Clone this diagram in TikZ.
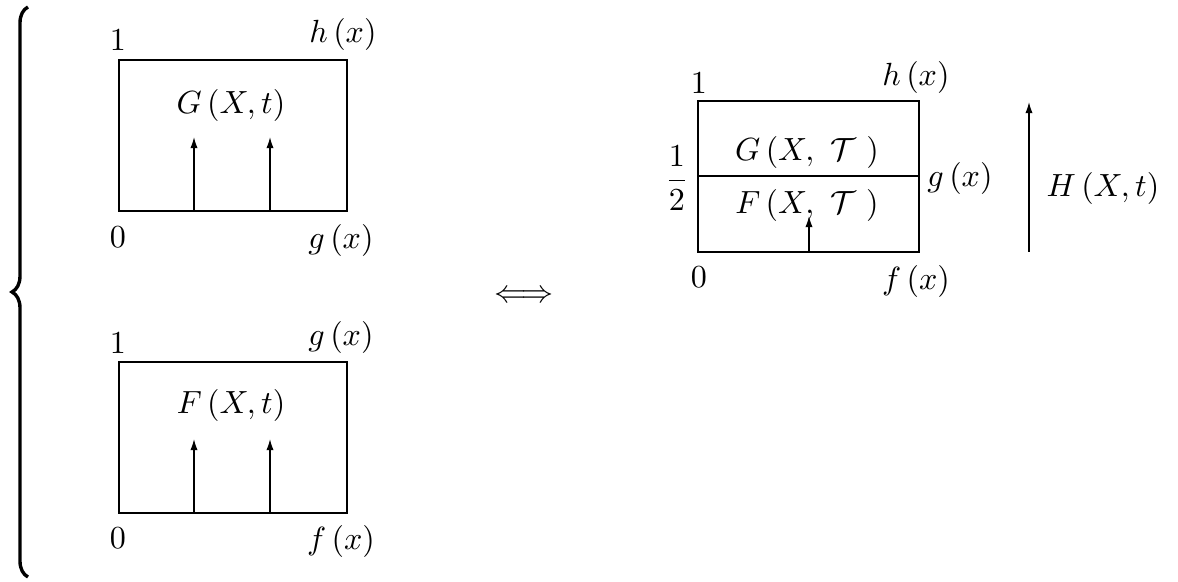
\documentclass[tikz,border=0pt]{standalone}
\usepackage{fix-cm}
\usetikzlibrary{arrows.meta,decorations.pathreplacing}
\tikzset{
  box/.style={line width=0.5pt},
  jump/.style={line width=0.5pt,-{Latex[length=4pt,width=2.6pt]}},
  every node/.style={font=\fontsize{11.4}{14}\selectfont},
}
\begin{document}
\begin{tikzpicture}[x=0.0125cm,y=-0.0125cm]
    \useasboundingbox (0,0) rectangle (1178,582);
    % the system on the left
    \draw[line width=1.2pt,decorate,
          decoration={brace,amplitude=0.2cm}] (28,577) -- (28,7);

    % upper box
    \draw[box] (119,60) rectangle (347,211);
    \node (gone) at (118,40) {$1$};
    \node (gh) at (343,34) {$h\left(x\right)$};
    \node (gzero) at (118,237) {$0$};
    \node (gg) at (341,240) {$g\left(x\right)$};
    \node (gname) at (231,105) {$G\left(X,t\right)$};
    \foreach \x in {194,270}{
      \draw[jump] (\x,211) -- (\x,137);
    }

    % lower box
    \draw[box] (119,362) rectangle (347,513);
    \node (fone) at (118,343) {$1$};
    \node (fg) at (341,337) {$g\left(x\right)$};
    \node (fzero) at (118,538) {$0$};
    \node (ff) at (341,541) {$f\left(x\right)$};
    \node (fname) at (231,405) {$F\left(X,t\right)$};
    \foreach \x in {194,270}{
      \draw[jump] (\x,513) -- (\x,439);
    }

    \node (equiv) at (524,297) {$\Longleftrightarrow$};

    % the joined box on the right
    \draw[box] (698,101) rectangle (919,252);
    \coordinate (midl) at (698,176);
    \coordinate (midr) at (919,176);
    \draw[box] (midl) -- (midr);
    \node (hone) at (699,83) {$1$};
    \node (hh) at (916,77) {$h\left(x\right)$};
    \node (hhalf) at (677,178) {$\displaystyle\frac{1}{2}$};
    \node (hg) at (960,178) {$g\left(x\right)$};
    \node (hzero) at (699,277) {$0$};
    \node (hf) at (916,281) {$f\left(x\right)$};
    \node (hgname) at (807,152) {$G\left(X,\ \mathcal{T}\ \right)$};
    \node (hfname) at (807,205) {$F\left(X,\ \mathcal{T}\ \right)$};
    \coordinate (hbase) at (809,252);
    \coordinate (htip) at (809,216);
    \draw[jump] (hbase) -- (htip);

    \coordinate (flowfoot) at (1029,252);
    \coordinate (flowhead) at (1029,102);
    \draw[jump] (flowfoot) -- (flowhead);
    \node (hname) at (1103,188) {$H\left(X,t\right)$};
\end{tikzpicture}
\end{document}
